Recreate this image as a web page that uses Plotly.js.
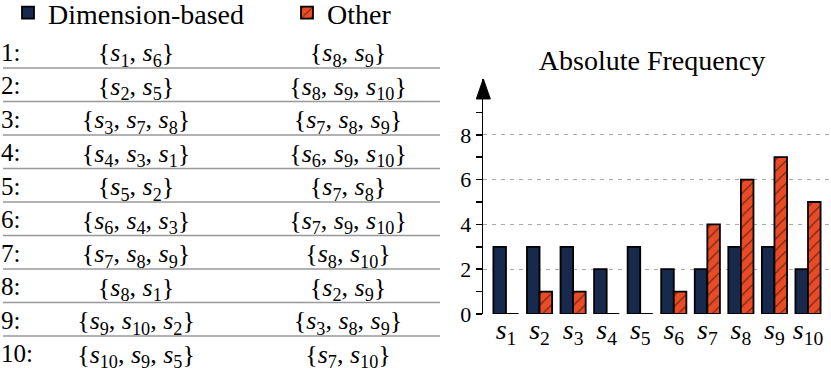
<!DOCTYPE html>
<html>
<head>
<meta charset="utf-8">
<script src="https://cdn.plot.ly/plotly-3.0.1.min.js"></script>
<style>html,body{margin:0;padding:0;background:#fff;}#chart{width:831px;height:368px;}</style>
</head>
<body>
<div id="chart"></div>
<script>
// ---- data ----
var categories = ['s1','s2','s3','s4','s5','s6','s7','s8','s9','s10'];
var catIndex = ['1','2','3','4','5','6','7','8','9','10'];
var dimensionCounts = [3, 3, 3, 2, 3, 2, 2, 3, 3, 2];
var otherCounts     = [0, 1, 1, 0, 0, 1, 4, 6, 7, 5];
var rowLabels = ['1:','2:','3:','4:','5:','6:','7:','8:','9:','10:'];
var dimensionSets = [[1,6],[2,5],[3,7,8],[4,3,1],[5,2],[6,4,3],[7,8,9],[8,1],[9,10,2],[10,9,5]];
var otherSets     = [[8,9],[8,9,10],[7,8,9],[6,9,10],[7,8],[7,9,10],[8,10],[2,9],[3,8,9],[7,10]];
var yTickVals = [0, 2, 4, 6, 8];
var yMinorVals = [1, 3, 5, 7, 9];

// ---- styling ----
var FONT = 'Liberation Serif';
var NAVY = '#172a4e';
var ORANGE = '#e94b27';
var W = 831, H = 368;

function sym(i){ return '<i>s</i><sub>' + i + '</sub>'; }
function setText(arr){ return '{' + arr.map(sym).join(', ') + '}'; }

var rowIdx = rowLabels.map(function(_, i){ return i + 1; });

// table column anchors (px along the table axis)
var COL_LABEL = 1, COL_DIM = 136, COL_OTHER = 348;
var ROW_SHIFT = 0.1;

var traces = [
  {
    type: 'bar', name: 'Dimension-based', x: categories, y: dimensionCounts,
    marker: {color: NAVY, line: {color: '#000', width: 1.8}},
    cliponaxis: false, xaxis: 'x', yaxis: 'y'
  },
  {
    type: 'bar', name: 'Other', x: categories, y: otherCounts,
    marker: {color: ORANGE, line: {color: '#000', width: 1.8},
             pattern: {shape: '/', fgcolor: '#000', bgcolor: ORANGE, size: 8, solidity: 0.15, fillmode: 'overlay'}},
    cliponaxis: false, xaxis: 'x', yaxis: 'y'
  },
  {
    type: 'scatter', mode: 'text', showlegend: false, hoverinfo: 'skip',
    x: rowIdx.map(function(){ return COL_LABEL; }), y: rowIdx.map(function(r){ return r + ROW_SHIFT; }), text: rowLabels,
    textposition: 'middle right', textfont: {family: FONT, size: 25, color: '#000'},
    xaxis: 'x2', yaxis: 'y2'
  },
  {
    type: 'scatter', mode: 'text', showlegend: false, hoverinfo: 'skip',
    x: rowIdx.map(function(){ return COL_DIM; }), y: rowIdx.map(function(r){ return r + ROW_SHIFT; }), text: dimensionSets.map(setText),
    textposition: 'middle center', textfont: {family: FONT, size: 26, color: '#000'},
    xaxis: 'x2', yaxis: 'y2'
  },
  {
    type: 'scatter', mode: 'text', showlegend: false, hoverinfo: 'skip',
    x: rowIdx.map(function(){ return COL_OTHER; }), y: rowIdx.map(function(r){ return r + ROW_SHIFT; }), text: otherSets.map(setText),
    textposition: 'middle center', textfont: {family: FONT, size: 26, color: '#000'},
    xaxis: 'x2', yaxis: 'y2'
  }
];

// separator lines between table rows
var shapes = [];
for (var k = 1; k < rowLabels.length; k++) {
  shapes.push({type: 'line', xref: 'x2', yref: 'y2', x0: 3, x1: 440, y0: k + 0.5, y1: k + 0.5,
               line: {color: '#999', width: 1.5}});
}
// arrow head on the y axis
var axX = 483.3 / W, half = 7 / W;
shapes.push({type: 'path', xref: 'paper', yref: 'y',
  path: 'M' + (axX - half) + ',9.6 L' + (axX + half) + ',9.6 L' + axX + ',10.5 Z',
  fillcolor: '#000', line: {color: '#000', width: 1}});

var layout = {
  width: W, height: H,
  margin: {l: 0, r: 0, t: 0, b: 0, pad: 0, autoexpand: false},
  paper_bgcolor: '#fff', plot_bgcolor: 'rgba(0,0,0,0)',
  font: {family: FONT, color: '#000'},
  title: {text: 'Absolute Frequency', font: {family: FONT, size: 28, color: '#000'},
          x: 652 / W, xanchor: 'center', xref: 'paper', y: 1 - 60 / H, yanchor: 'middle', yref: 'paper'},
  barmode: 'group', bargap: 0.25, bargroupgap: 0,
  showlegend: true,
  legend: {orientation: 'h', x: 8 / W, xanchor: 'left', y: 1 + 12 / H, yanchor: 'top',
           font: {family: FONT, size: 28, color: '#000'}, entrywidth: 234, entrywidthmode: 'pixels',
           bgcolor: 'rgba(0,0,0,0)', traceorder: 'normal'},
  xaxis: {domain: [483.3 / W, 1], range: [-0.676, 9.685], type: 'category',
          tickvals: categories, ticktext: catIndex.map(sym), showline: false, showgrid: false,
          zeroline: false, ticks: '', ticklabelstandoff: -4,
          tickfont: {family: FONT, size: 28, color: '#000'}, fixedrange: true},
  yaxis: {domain: [(H - 314) / H, (H - 78.8) / H], range: [0, 10.5], anchor: 'x',
          tickmode: 'array', tickvals: yTickVals, ticktext: yTickVals.map(String),
          showline: true, linecolor: '#000', linewidth: 1.6,
          ticks: 'outside', ticklen: 6, tickwidth: 1.5, tickcolor: '#000',
          minor: {tickmode: 'array', tickvals: yMinorVals, ticks: 'outside', ticklen: 6, tickwidth: 1.5, tickcolor: '#000', showgrid: false},
          showgrid: true, gridcolor: '#aaa', gridwidth: 1, griddash: '4px,5px',
          zeroline: false, tickfont: {family: FONT, size: 22, color: '#000'}, fixedrange: true},
  xaxis2: {domain: [0, 440 / W], range: [0, 440], visible: false, fixedrange: true, anchor: 'y2'},
  yaxis2: {domain: [0, 1], range: [10.455, -0.530], visible: false, fixedrange: true, anchor: 'x2'},
  shapes: shapes
};

Plotly.newPlot('chart', traces, layout, {staticPlot: true, displayModeBar: false});
</script>
</body>
</html>
